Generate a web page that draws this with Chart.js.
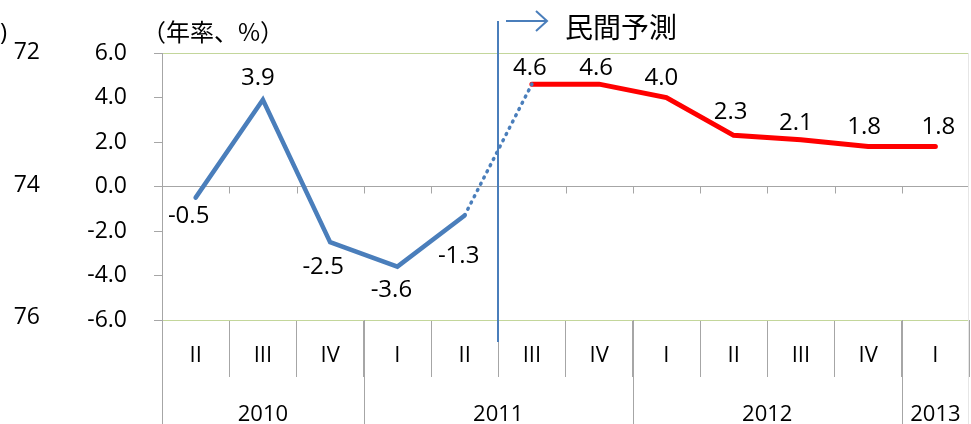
<!DOCTYPE html>
<html>
<head>
<meta charset="utf-8">
<script src="https://cdn.jsdelivr.net/npm/chart.js@4"></script>
<style>
	body {margin:0; background:#fff;}
	#wrap {width:971px; height:424px; position:relative;}
</style>
</head>
<body>
<div id="wrap"><canvas id="gdp"></canvas></div>
<script>
// quarters and years on the category axis
const quarters = ['II','III','IV','I','II','III','IV','I','II','III','IV','I'];
const years = ['2010','2011','2012','2013'];
const yearSpans = [3, 4, 4, 1]; // number of quarters under each year

// actual (blue), bridge to forecast (dotted), private forecast (red)
const actual   = [-0.5, 3.9, -2.5, -3.6, -1.3, null, null, null, null, null, null, null];
const bridge   = [null, null, null, null, -1.3, 4.6, null, null, null, null, null, null];
const forecast = [null, null, null, null, null, 4.6, 4.6, 4.0, 2.3, 2.1, 1.8, 1.8];

// leftover axis labels from the neighbouring chart
const strayLabels = ['72', '74', '76'];

const unitText = '（年率、%）';
const forecastText = '民間予測';

const FONT = '"Open Sans", "Noto Sans", sans-serif';
const CJK = '"Noto Sans CJK JP", sans-serif';
const blue = '#4a7ebb';
const red = '#ff0000';
const grey = '#a6a6a6';
const green = '#c3d69b';

// value labels, Excel style: [dx, dy] from the point
const labelOffsets = {
	0: [[-7,19],[-5,-22],[-7,25],[-6,24],[-6,41]],
	2: [null,null,null,null,null,[-2,-16],[-3,-16],[-5,-19],[-3,-23],[-5,-17],[-4,-19],[3,-19]]
};

const decor = {
	id: 'decor',
	afterDraw(chart) {
		const ctx = chart.ctx;
		const x = chart.scales.x, y = chart.scales.y;
		const ca = chart.chartArea;
		const step = (ca.right - ca.left) / quarters.length;
		const y0 = y.getPixelForValue(0);
		ctx.save();

		// small ticks hanging from the zero line
		ctx.strokeStyle = grey; ctx.lineWidth = 1;
		for (let i = 1; i < quarters.length; i++) {
			let px = Math.round(ca.left + i*step) + 0.5;
			ctx.beginPath(); ctx.moveTo(px, y0); ctx.lineTo(px, y0 + 7); ctx.stroke();
		}

		// year dividers and labels
		let start = 0;
		ctx.font = '22px ' + FONT; ctx.fillStyle = '#000';
		ctx.textAlign = 'center'; ctx.textBaseline = 'middle';
		years.forEach((yr, k) => {
			let l = ca.left + start*step;
			let r = ca.left + (start + yearSpans[k])*step;
			if (k > 0) {
				let px = Math.round(l) + 0.5;
				ctx.beginPath(); ctx.moveTo(px, ca.bottom); ctx.lineTo(px, chart.height); ctx.stroke();
			}
			ctx.fillText(yr, (l + r)/2, 415);
			start += yearSpans[k];
		});
		// y axis line continues down to the bottom
		ctx.beginPath(); ctx.moveTo(ca.left + 0.5, ca.bottom); ctx.lineTo(ca.left + 0.5, chart.height); ctx.stroke();
		// faint right border
		ctx.strokeStyle = '#e6e6e6';
		ctx.beginPath(); ctx.moveTo(ca.right - 0.5, ca.top); ctx.lineTo(ca.right - 0.5, chart.height); ctx.stroke();

		// value labels
		ctx.font = '24px ' + FONT; ctx.fillStyle = '#000';
		for (const di in labelOffsets) {
			const meta = chart.getDatasetMeta(di);
			const vals = chart.data.datasets[di].data;
			labelOffsets[di].forEach((off, i) => {
				if (!off || vals[i] == null) return;
				const pt = meta.data[i];
				ctx.fillText(vals[i].toFixed(1), pt.x + off[0], pt.y + off[1]);
			});
		}

		// forecast divider with arrow
		const bx = Math.round(ca.left + 5*step);
		ctx.strokeStyle = blue; ctx.lineWidth = 2;
		ctx.beginPath(); ctx.moveTo(bx, 21); ctx.lineTo(bx, 342); ctx.stroke();
		ctx.beginPath(); ctx.moveTo(bx + 8, 21); ctx.lineTo(bx + 49, 21); ctx.stroke();
		ctx.beginPath(); ctx.moveTo(bx + 38, 11); ctx.lineTo(bx + 49, 21); ctx.lineTo(bx + 38, 31); ctx.stroke();
		ctx.font = '28px ' + CJK; ctx.fillStyle = '#000';
		ctx.textAlign = 'left';
		ctx.fillText(forecastText, bx + 67, 27);

		// unit text
		ctx.font = '24px ' + CJK;
		ctx.fillText(unitText, 142, 32);

		// stray labels from the left chart
		ctx.font = '24px ' + FONT; ctx.textAlign = 'left';
		ctx.fillText(')', 0, 33);
		ctx.font = '23px ' + FONT; ctx.textAlign = 'right';
		ctx.fillText(strayLabels[0], 40, 52);
		ctx.fillText(strayLabels[1], 40, 185);
		ctx.fillText(strayLabels[2], 40, 317);
		ctx.restore();
	}
};

new Chart(document.getElementById('gdp'), {
	type: 'line',
	data: {
		labels: quarters,
		datasets: [
			{data: actual, borderColor: blue, borderWidth: 4.5, pointRadius: 0, tension: 0, borderCapStyle: 'round'},
			{data: bridge, borderColor: blue, borderWidth: 3.5, borderDash: [1, 6], borderCapStyle: 'round', pointRadius: 0, tension: 0},
			{data: forecast, borderColor: red, borderWidth: 5, pointRadius: 0, tension: 0, borderCapStyle: 'round'}
		]
	},
	options: {
		responsive: true,
		maintainAspectRatio: false,
		animation: false,
		layout: {padding: {top: 53, right: 2, left: 0, bottom: 0}},
		plugins: {legend: {display: false}, tooltip: {enabled: false}},
		scales: {
			x: {
				offset: true,
				afterFit: s => { s.height = 104; },
				border: {display: false},
				grid: {offset: true, drawOnChartArea: false, tickLength: 57, color: grey},
				ticks: {font: {family: FONT, size: 22}, color: '#000', padding: -34, maxRotation: 0, autoSkip: false}
			},
			y: {
				min: -6, max: 6,
				afterFit: s => { s.width = 162; },
				border: {color: grey},
				grid: {
					color: c => c.tick.value === 0 ? grey : (Math.abs(c.tick.value) === 6 ? green : 'transparent'),
					tickColor: grey, tickLength: 8
				},
				ticks: {stepSize: 2, padding: 27, color: '#000', font: {family: FONT, size: 23},
					callback: v => v.toFixed(1)}
			}
		}
	},
	plugins: [decor]
});
</script>
</body>
</html>
